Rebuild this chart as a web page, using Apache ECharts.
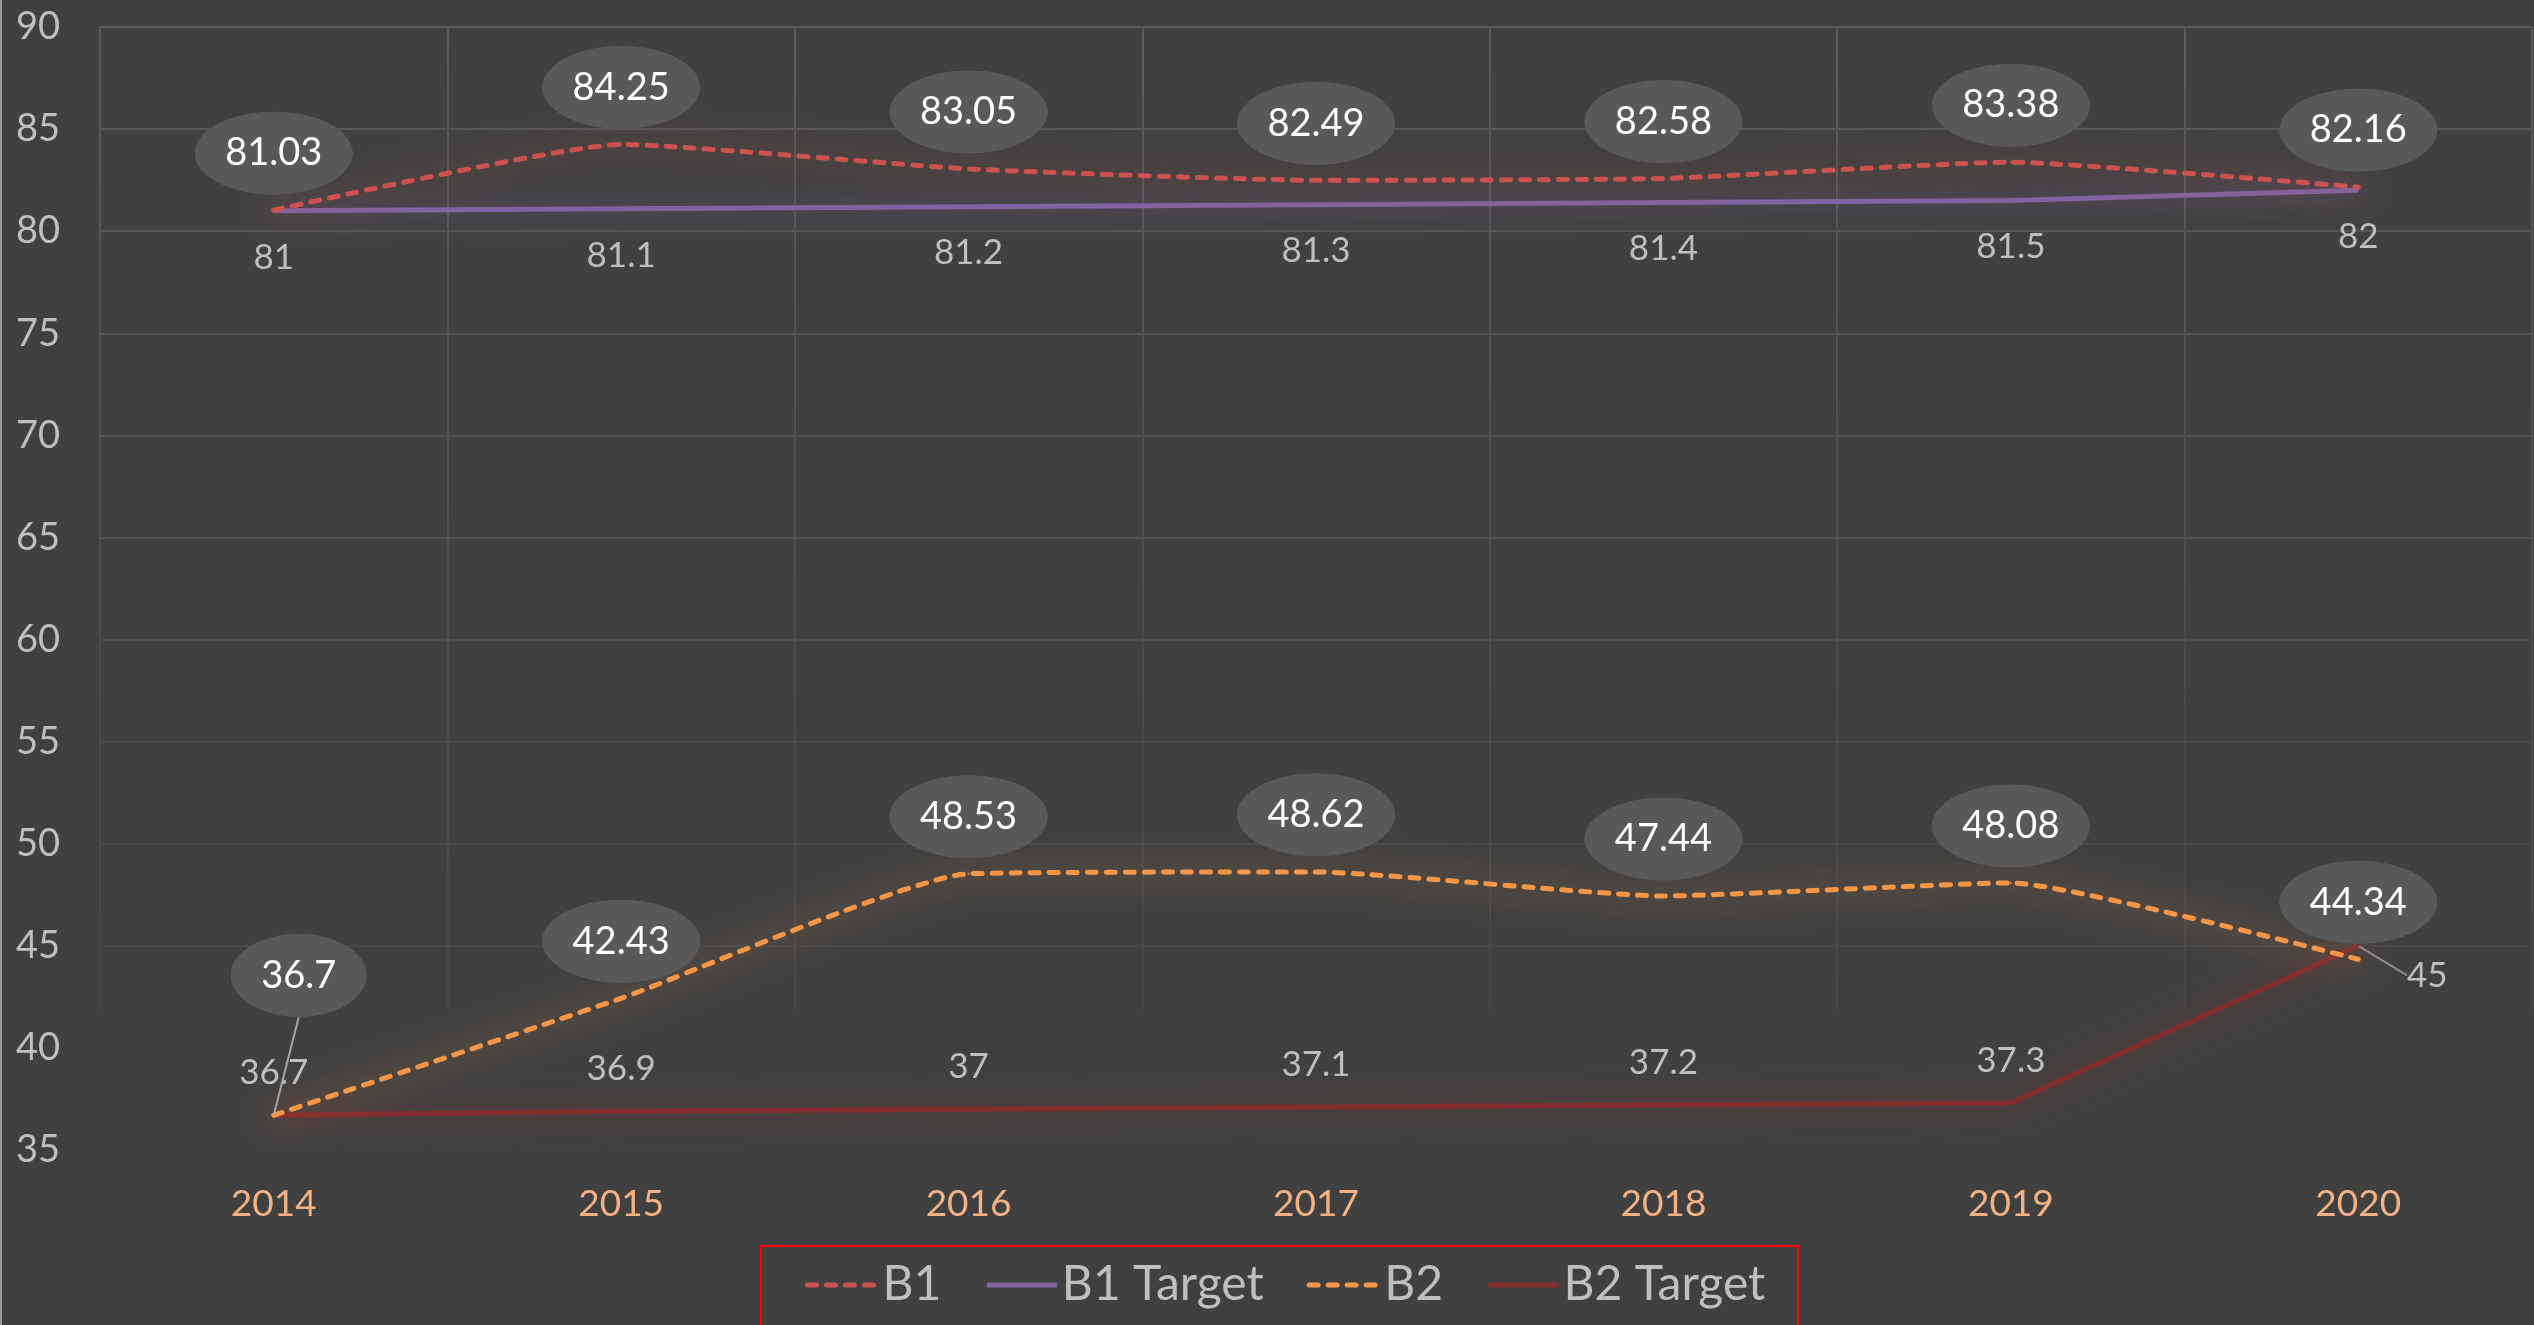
<!DOCTYPE html>
<html>
<head>
<meta charset="utf-8">
<script src="https://cdn.jsdelivr.net/npm/echarts@6.0.0/dist/echarts.min.js"></script>
<style>
  html, body { margin: 0; padding: 0; background: #404040; }
  #chart { width: 2534px; height: 1325px; }
</style>
</head>
<body>
<div id="chart"></div>
<script>
// 数据
const years = ['2014', '2015', '2016', '2017', '2018', '2019', '2020']
const b1 = [81.03, 84.25, 83.05, 82.49, 82.58, 83.38, 82.16]
const b1Target = [81, 81.1, 81.2, 81.3, 81.4, 81.5, 82]
const b2 = [36.7, 42.43, 48.53, 48.62, 47.44, 48.08, 44.34]
const b2Target = [36.7, 36.9, 37, 37.1, 37.2, 37.3, 45]
const yMin = 35
const yMax = 90
const yStep = 5

const font = 'Lato, "Open Sans", sans-serif'

// 椭圆气泡背景
let bubble = document.createElement('canvas')
bubble.width = 320
bubble.height = 168
let ctx = bubble.getContext('2d')
ctx.fillStyle = '#595959'
ctx.beginPath()
ctx.ellipse(160, 84, 159, 83, 0, 0, Math.PI * 2)
ctx.fill()

let bubbleLabel = {
  show: true,
  position: 'top',
  distance: 14,
  color: '#ffffff',
  fontSize: 38,
  fontFamily: font,
  height: 84,
  lineHeight: 84,
  padding: [0, 31],
  backgroundColor: { image: bubble },
}

let plainLabel = (pos, dist) => ({
  show: true,
  position: pos,
  distance: dist,
  color: '#bfbfbf',
  fontSize: 35,
  fontFamily: font,
})

let leader = (color) => ({ show: true, lineStyle: { color: color, width: 2 } })

// 横向网格线, 从 35 往上逐渐变亮
let hLineColors = ['rgba(0,0,0,0)', 'rgba(0,0,0,0)', '#474747', '#494949', '#4b4b4b', '#4d4d4d',
  '#505050', '#525252', '#545454', '#565656', '#585858', '#5a5a5a']

let option = {
  backgroundColor: '#404040',
  animation: false,
  grid: {
    left: 100,
    right: 2,
    top: 27,
    bottom: 175,
    outerBoundsMode: 'none',
  },
  legend: {
    data: ['B1', 'B1 Target', 'B2', 'B2 Target'],
    left: 761,
    top: 1246,
    itemWidth: 70,
    itemHeight: 14,
    itemGap: 43,
    padding: [15, 33, 70, 44],
    borderColor: '#ff0000',
    borderWidth: 2,
    textStyle: { color: '#bfbfbf', fontSize: 48, fontFamily: font },
    itemStyle: { color: 'rgba(0,0,0,0)', borderWidth: 0, borderColor: 'rgba(0,0,0,0)' },
    lineStyle: { width: 5 },
  },
  xAxis: {
    type: 'category',
    data: years,
    boundaryGap: true,
    axisLine: { show: false },
    axisTick: { show: false },
    axisLabel: { color: '#f4b183', fontSize: 37, fontFamily: font, margin: 36 },
    splitLine: {
      show: true,
      interval: 0,
      lineStyle: {
        width: 2,
        color: new echarts.graphic.LinearGradient(0, 0, 0, 1, [
          { offset: 0, color: '#5a5a5a' },
          { offset: 0.6, color: '#4b4b4b' },
          { offset: 0.87, color: '#464646' },
          { offset: 0.88, color: 'rgba(64,64,64,0)' },
          { offset: 1, color: 'rgba(64,64,64,0)' },
        ]),
      },
    },
  },
  yAxis: {
    type: 'value',
    min: yMin,
    max: yMax,
    interval: yStep,
    axisLine: { show: false },
    axisTick: { show: false },
    axisLabel: { color: '#bfbfbf', fontSize: 38, fontFamily: font, margin: 40 },
    splitLine: { show: true, lineStyle: { width: 2, color: hLineColors } },
  },
  graphic: [
    { type: 'rect', left: 0, top: 0, shape: { width: 2, height: 1325 }, style: { fill: '#9a9a9a' } },
  ],
  series: [
    {
      name: 'B1',
      type: 'line',
      data: b1,
      smooth: 0.15,
      symbol: 'circle',
      symbolSize: 2,
      itemStyle: { color: '#cc5250' },
      lineStyle: { color: '#cc5250', width: 5, type: [9, 10], cap: 'round',
        shadowColor: 'rgba(205,75,72,0.85)', shadowBlur: 32 },
      label: bubbleLabel,
      z: 4,
    },
    {
      name: 'B1 Target',
      type: 'line',
      data: b1Target,
      symbol: 'circle',
      symbolSize: 2,
      itemStyle: { color: '#8064a2' },
      lineStyle: { color: '#8064a2', width: 5, shadowColor: 'rgba(128,100,162,0.7)', shadowBlur: 26 },
      label: plainLabel('bottom', 28),
      z: 3,
    },
    {
      name: 'B2',
      type: 'line',
      data: b2.map((v, i) => (i === 0 ? { value: v, labelLine: leader('#a6a6a6') } : v)),
      smooth: 0.15,
      symbol: 'circle',
      symbolSize: 2,
      itemStyle: { color: '#f79646' },
      lineStyle: { color: '#f79646', width: 5, type: [9, 10], cap: 'round',
        shadowColor: 'rgba(247,150,70,0.8)', shadowBlur: 32 },
      label: bubbleLabel,
      // 第一个气泡往上挪, 用引导线连回点
      labelLayout: function (params) {
        if (params.dataIndex === 0) return { dx: 25, dy: -83 }
      },
      z: 4,
    },
    {
      name: 'B2 Target',
      type: 'line',
      data: b2Target.map((v, i) => (i === b2Target.length - 1 ? { value: v, labelLine: leader('#8c8c8c') } : v)),
      symbol: 'circle',
      symbolSize: 2,
      itemStyle: { color: '#832c2c' },
      lineStyle: { color: '#832c2c', width: 5, shadowColor: 'rgba(150,40,40,0.8)', shadowBlur: 28 },
      label: plainLabel('top', 24),
      labelLayout: function (params) {
        if (params.dataIndex === b2Target.length - 1) return { dx: 69, dy: 72 }
      },
      z: 3,
    },
  ],
}

let mychart = echarts.init(document.getElementById('chart'))
mychart.setOption(option)
</script>
</body>
</html>
